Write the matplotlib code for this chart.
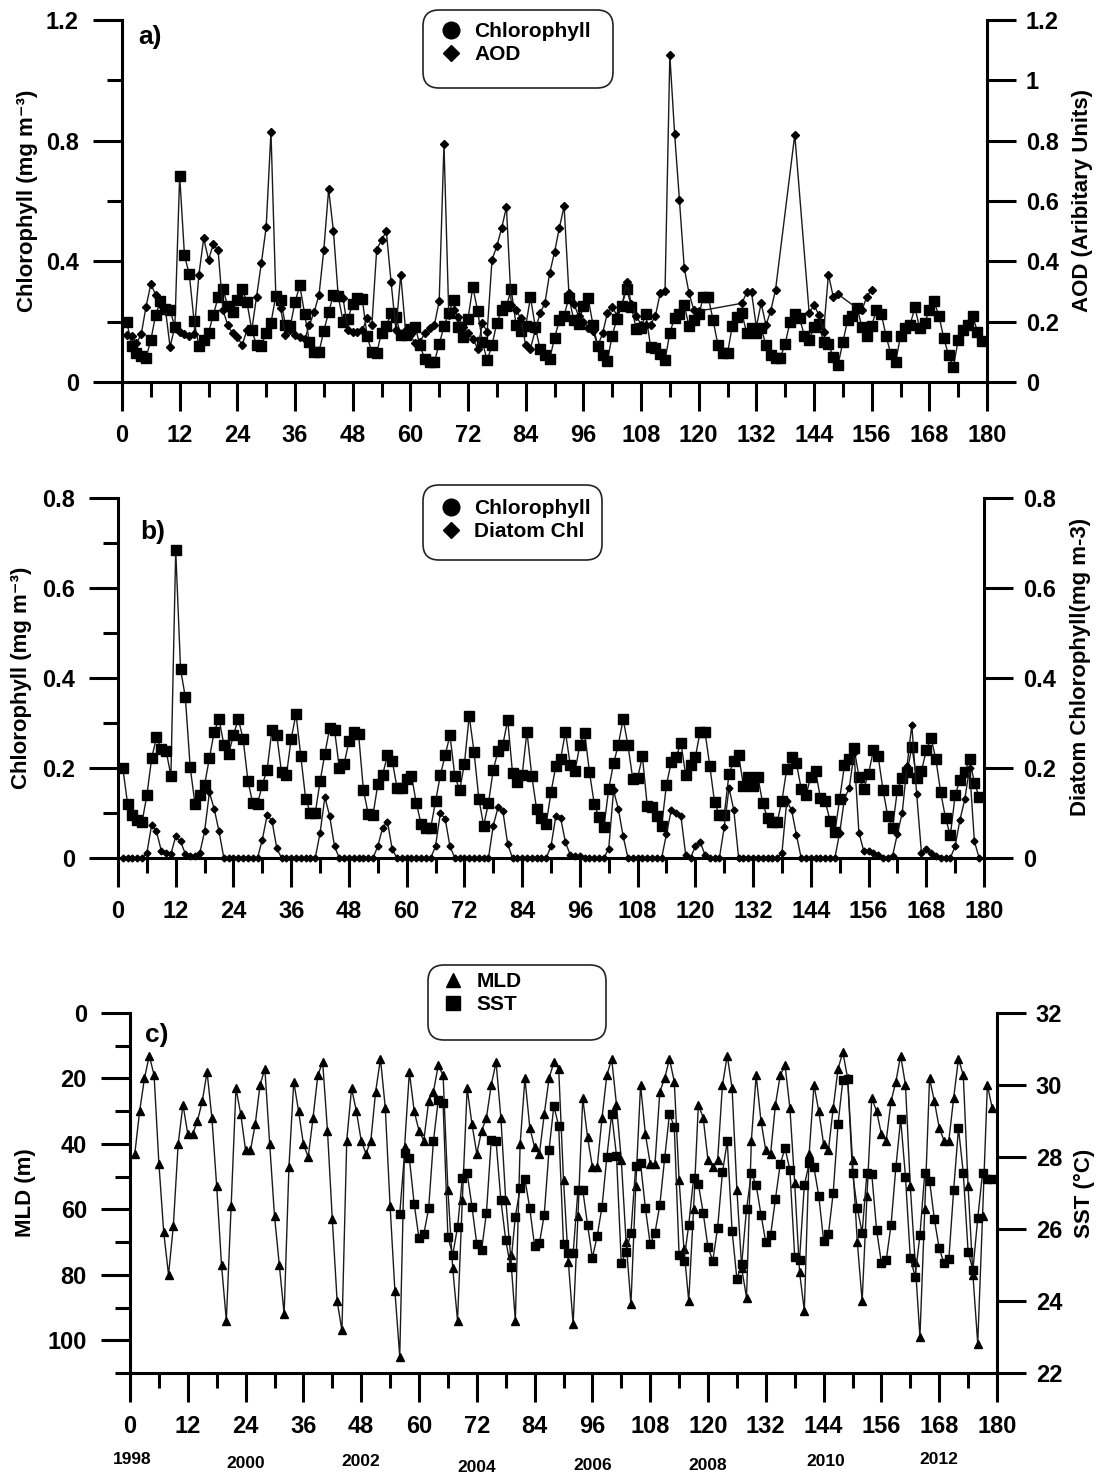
import matplotlib
matplotlib.use('Agg')
import matplotlib.pyplot as plt
from matplotlib.lines import Line2D
from matplotlib.patches import FancyBboxPatch
from matplotlib.transforms import IdentityTransform, blended_transform_factory

plt.rcParams['font.family'] = ['Liberation Sans', 'DejaVu Sans']
plt.rcParams['font.weight'] = 'bold'
plt.rcParams['axes.labelweight'] = 'bold'

# ---- data (monthly, month 1 = Jan 1998) ----
chl = [0.20, 0.12, 0.096, 0.085, 0.08, 0.139, 0.222, 0.268, 0.242, 0.238,
       0.183, 0.684, 0.42, 0.357, 0.202, 0.12, 0.139, 0.163, 0.222, 0.281,
       0.309, 0.252, 0.232, 0.273, 0.309, 0.265, 0.172, 0.122, 0.12, 0.163,
       0.196, 0.285, 0.273, 0.19, 0.184, 0.265, 0.32, 0.226, 0.132, 0.10,
       0.10, 0.17, 0.232, 0.289, 0.285, 0.20, 0.209, 0.259, 0.28, 0.276,
       0.152, 0.098, 0.095, 0.164, 0.185, 0.228, 0.216, 0.156, 0.156, 0.176,
       0.183, 0.122, 0.076, 0.067, 0.067, 0.126, 0.184, 0.228, 0.273, 0.183,
       0.15, 0.209, 0.316, 0.236, 0.132, 0.072, 0.122, 0.196, 0.238, 0.252,
       0.307, 0.189, 0.169, 0.184, 0.281, 0.183, 0.109, 0.089, 0.076, 0.146,
       0.204, 0.22, 0.28, 0.207, 0.193, 0.252, 0.278, 0.19, 0.12, 0.09,
       0.069, 0.154, 0.21, 0.252, 0.309, 0.25, 0.176, 0.178, 0.226, 0.116,
       0.113, 0.093, 0.072, 0.163, 0.213, 0.224, 0.256, 0.184, 0.207, 0.224,
       0.281, 0.281, 0.205, 0.124, 0.095, 0.095, 0.187, 0.216, 0.228, 0.161,
       0.18, 0.161, 0.18, 0.122, 0.089, 0.08, 0.08, 0.127, 0.198, 0.224,
       0.211, 0.154, 0.139, 0.181, 0.193, 0.133, 0.126, 0.083, 0.057, 0.131,
       0.206, 0.219, 0.244, 0.181, 0.154, 0.187, 0.239, 0.226, 0.152, 0.093,
       0.067, 0.152, 0.178, 0.19, 0.247, 0.178, 0.194, 0.239, 0.267, 0.219,
       0.146, 0.089, 0.05, 0.139, 0.174, 0.19, 0.22, 0.167, 0.135]
chl_months = list(range(1, len(chl) + 1))

diatom = [0, 0, 0, 0, 0, 0.011, 0.074, 0.059, 0.016, 0.011,
          0.009, 0.048, 0.037, 0.009, 0.004, 0.004, 0.011, 0.059, 0.146, 0.109,
          0.059, 0, 0, 0, 0, 0, 0, 0, 0, 0.041,
          0.095, 0.083, 0.022, 0, 0, 0, 0, 0, 0, 0,
          0, 0.056, 0.135, 0.093, 0.026, 0, 0, 0, 0, 0,
          0, 0, 0, 0.026, 0.067, 0.081, 0.019, 0, 0, 0,
          0, 0, 0, 0, 0, 0.026, 0.10, 0.087, 0.026, 0,
          0, 0, 0, 0, 0, 0, 0, 0.072, 0.113, 0.104,
          0.031, 0, 0, 0, 0, 0, 0, 0, 0, 0.026,
          0.093, 0.089, 0.035, 0.007, 0.005, 0.005, 0, 0, 0, 0,
          0, 0.021, 0.15, 0.109, 0.048, 0, 0, 0, 0, 0,
          0, 0, 0, 0.054, 0.107, 0.10, 0.093, 0.007, 0, 0.026,
          0.036, 0.007, 0, 0, 0, 0.068, 0.156, 0.106, 0, 0,
          0, 0, 0, 0, 0, 0, 0, 0.011, 0.126, 0.107,
          0.052, 0, 0, 0, 0, 0, 0, 0, 0, 0.056,
          0.132, 0.156, 0.233, 0.056, 0.016, 0.016, 0.011, 0.007, 0, 0,
          0.005, 0.054, 0.10, 0.205, 0.296, 0.143, 0.011, 0.019, 0.011, 0.005,
          0, 0, 0, 0.026, 0.085, 0.13, 0.2, 0.037, 0]
diatom_months = list(range(1, len(diatom) + 1))

aod_months = list(range(1, 121)) + [129, 130, 131, 132, 133, 134, 135, 136, 140,
                                    143, 144, 145, 146, 147, 148, 149,
                                    153, 154, 155, 156]
aod = [0.156, 0.152, 0.128, 0.158, 0.25, 0.324, 0.29, 0.26, 0.245, 0.117,
       0.183, 0.167, 0.16, 0.152, 0.16, 0.356, 0.476, 0.406, 0.456, 0.436,
       0.239, 0.189, 0.161, 0.15, 0.122, 0.172, 0.172, 0.283, 0.394, 0.513,
       0.83, 0.289, 0.244, 0.156, 0.172, 0.156, 0.15, 0.141, 0.189, 0.233,
       0.289, 0.439, 0.639, 0.5, 0.283, 0.278, 0.172, 0.167, 0.167, 0.172,
       0.211, 0.189, 0.439, 0.47, 0.5, 0.33, 0.172, 0.356, 0.172, 0.156,
       0.128, 0.133, 0.161, 0.178, 0.189, 0.267, 0.789, 0.222, 0.239, 0.217,
       0.183, 0.161, 0.144, 0.111, 0.194, 0.167, 0.406, 0.45, 0.51, 0.58,
       0.256, 0.239, 0.211, 0.122, 0.111, 0.172, 0.228, 0.261, 0.361, 0.43,
       0.51, 0.583, 0.294, 0.26, 0.22, 0.2, 0.18, 0.17, 0.12, 0.161,
       0.228, 0.25, 0.22, 0.25, 0.33, 0.26, 0.22, 0.19, 0.19, 0.19,
       0.22, 0.294, 0.30, 1.083, 0.822, 0.603, 0.378, 0.294, 0.239, 0.235,
       0.261, 0.297, 0.297, 0.183, 0.261, 0.189, 0.236, 0.306, 0.82,
       0.228, 0.256, 0.222, 0.167, 0.356, 0.283, 0.291,
       0.244, 0.239, 0.283, 0.306]

mld = [43, 30, 20, 13, 19, 46, 67, 80, 65, 40,
       28, 37, 37, 33, 27, 18, 32, 53, 77, 94,
       59, 23, 31, 42, 42, 34, 22, 17, 40, 62,
       77, 92, 47, 21, 30, 40, 44, 32, 19, 15,
       36, 63, 88, 97, 39, 23, 30, 39, 43, 39,
       24, 14, 29, 59, 85, 105, 41, 18, 30, 36,
       39, 27, 24, 16, 19, 54, 78, 94, 57, 23,
       34, 43, 36, 32, 22, 15, 32, 57, 74, 94,
       40, 20, 35, 41, 43, 31, 20, 15, 17, 51,
       76, 95, 62, 26, 38, 47, 47, 32, 19, 14,
       28, 45, 70, 89, 53, 22, 37, 46, 46, 24,
       20, 14, 21, 51, 72, 88, 60, 28, 32, 45,
       47, 45, 22, 13, 23, 54, 78, 87, 39, 19,
       33, 42, 43, 28, 19, 16, 29, 52, 79, 91,
       43, 22, 30, 40, 42, 29, 17, 12, 20, 45,
       70, 88, 56, 26, 30, 37, 39, 27, 21, 13,
       22, 53, 76, 99, 60, 20, 27, 35, 39, 39,
       26, 14, 19, 53, 80, 101, 62, 22, 29]
mld_months = list(range(1, len(mld) + 1))

sst = [26.42, 28.1, 27.96, 26.7, 25.74,
       25.86, 26.57, 28.45, 29.58, 29.49, 25.79, 25.28, 26.05, 27.41, 27.55,
       26.62, 25.58, 25.42, 26.45, 28.47, 28.44, 26.8, 25.7, 24.95, 26.34,
       27.13, 27.38, 26.57, 25.53, 25.6, 26.4, 28.2, 29.42, 28.86, 25.58,
       25.32, 25.32, 27.08, 27.08, 26.11, 25.2, 25.81, 26.62, 28.0, 29.2,
       28.04, 25.05, 25.37, 25.9, 27.75, 27.82, 26.58, 25.58, 25.9, 26.67,
       27.96, 29.2, 28.84, 25.28, 25.12, 26.11, 27.41, 27.25, 26.45, 25.49,
       25.12, 26.04, 27.57, 28.44, 25.95, 24.61, 25.03, 26.55, 27.55, 27.22,
       26.4, 25.63, 25.83, 26.83, 27.81, 28.24, 27.64, 25.23, 25.14, 27.22,
       27.82, 27.71, 26.92, 25.68, 25.86, 27.01, 28.92, 30.14, 30.16, 27.56,
       26.57, 25.9, 27.56, 27.53, 25.97, 25.06, 25.13, 26.11, 27.71, 29.05,
       27.45, 25.19, 24.68, 25.83, 27.56, 27.34, 26.27, 25.46, 25.05, 25.16,
       27.08, 28.8, 27.56, 25.37, 24.86, 26.3, 27.56, 27.38, 27.38]
sst_months = list(range(56, 56 + len(sst)))

month_ticks = list(range(0, 181, 12))
year_labels = ['1998', '2000', '2002', '2004', '2006', '2008', '2010', '2012']
year_months = [0.5, 24, 48, 72, 96, 120, 144.5, 168]

W, H = 1104, 1478
fig = plt.figure(figsize=(W / 100, H / 100), dpi=100)

LC = '#1a1a1a'


def rect(left, right, top, bottom):
    return [left / W, 1 - bottom / H, (right - left) / W, (bottom - top) / H]


def style_x(ax):
    ax.set_xlim(0, 180)
    ax.set_xticks(month_ticks)
    ax.set_xticks([m + 6 for m in month_ticks[:-1]], minor=True)
    ax.tick_params(axis='x', which='major', direction='out', length=21, width=2.2,
                   labelsize=17, pad=9)
    ax.tick_params(axis='x', which='minor', direction='out', length=10.5, width=2.2)


def style_left(ax):
    ax.tick_params(axis='y', which='major', direction='out', length=21, width=2.2,
                   labelsize=17, pad=10)
    ax.tick_params(axis='y', which='minor', direction='out', length=10.5, width=2.2)
    for s in ['top', 'right']:
        ax.spines[s].set_visible(False)
    for s in ['left', 'bottom']:
        ax.spines[s].set_linewidth(2.2)


def style_right(ax):
    ax.tick_params(axis='y', which='major', direction='out', length=21, width=2.2,
                   labelsize=17, pad=7)
    for s in ['top', 'left', 'bottom']:
        ax.spines[s].set_visible(False)
    ax.spines['right'].set_linewidth(2.2)


def legend_box(handles, labels, box, anchor):
    x0, y0, x1, y1 = box
    patch = FancyBboxPatch((x0, H - y1), x1 - x0, y1 - y0,
                           boxstyle='round,pad=0,rounding_size=16',
                           transform=IdentityTransform(), fc='white', ec='#222222',
                           lw=1.2, zorder=3)
    fig.add_artist(patch)
    fig.legend(handles, labels, loc='upper left',
               bbox_to_anchor=(anchor[0] / W, 1 - anchor[1] / H),
               frameon=False, prop={'weight': 'bold', 'size': 15},
               handlelength=1.0, handletextpad=0.6, labelspacing=0.2,
               borderpad=0, borderaxespad=0)


# ---------------- panel a ----------------
axa = fig.add_axes(rect(122, 987, 20, 382))
axa.plot(chl_months, chl, color=LC, lw=1.0, marker='s', ms=6.8, mfc='black',
         mec='black', clip_on=False, zorder=3)
axa.set_ylim(0, 1.2)
axa.set_yticks([0, 0.4, 0.8, 1.2])
axa.set_yticklabels(['0', '0.4', '0.8', '1.2'])
axa.set_yticks([0.2, 0.6, 1.0], minor=True)
style_left(axa)
style_x(axa)
axa.set_ylabel('Chlorophyll (mg m⁻³)', fontsize=16)
axa.yaxis.set_label_coords(-0.097, 0.5)
axa.text(0.032, 0.953, 'a)', transform=axa.transAxes, fontsize=19,
         ha='center', va='center')

axa2 = axa.twinx()
axa2.plot(aod_months, aod, color=LC, lw=1.0, marker='D', ms=3.6, mfc='black',
          mec='black', clip_on=False, zorder=3)
axa2.set_ylim(0, 1.2)
axa2.set_yticks([0, 0.2, 0.4, 0.6, 0.8, 1.0, 1.2])
axa2.set_yticklabels(['0', '0.2', '0.4', '0.6', '0.8', '1', '1.2'])
style_right(axa2)
axa2.set_ylabel('AOD (Aribitary Units)', fontsize=16)
axa2.yaxis.set_label_coords(1.098, 0.5)

legend_box([Line2D([], [], ls='none', marker='o', ms=12, color='black'),
            Line2D([], [], ls='none', marker='D', ms=8.5, color='black')],
           ['Chlorophyll', 'AOD'], (423, 10, 613, 88), (441, 22))

# ---------------- panel b ----------------
axb = fig.add_axes(rect(118, 984, 498, 858))
axb.plot(chl_months, chl, color=LC, lw=1.0, marker='s', ms=6.8, mfc='black',
         mec='black', clip_on=False, zorder=3)
axb.set_ylim(0, 0.8)
axb.set_yticks([0, 0.2, 0.4, 0.6, 0.8])
axb.set_yticklabels(['0', '0.2', '0.4', '0.6', '0.8'])
axb.set_yticks([0.1, 0.3, 0.5, 0.7], minor=True)
style_left(axb)
style_x(axb)
axb.set_ylabel('Chlorophyll (mg m⁻³)', fontsize=16)
axb.yaxis.set_label_coords(-0.099, 0.5)
axb.text(0.040, 0.906, 'b)', transform=axb.transAxes, fontsize=19,
         ha='center', va='center')

axb2 = axb.twinx()
axb2.plot(diatom_months, diatom, color=LC, lw=1.0, marker='D', ms=3.5, mfc='black',
          mec='black', clip_on=False, zorder=3)
axb2.set_ylim(0, 0.8)
axb2.set_yticks([0, 0.2, 0.4, 0.6, 0.8])
axb2.set_yticklabels(['0', '0.2', '0.4', '0.6', '0.8'])
style_right(axb2)
axb2.set_ylabel('Diatom Chlorophyll(mg m-3)', fontsize=16)
axb2.yaxis.set_label_coords(1.099, 0.53)

legend_box([Line2D([], [], ls='none', marker='o', ms=12, color='black'),
            Line2D([], [], ls='none', marker='D', ms=8.5, color='black')],
           ['Chlorophyll', 'Diatom Chl'], (423, 485, 602, 560), (441, 499))

# ---------------- panel c ----------------
axc = fig.add_axes(rect(130, 997, 1013, 1373))
axc.plot(mld_months, mld, color=LC, lw=1.0, marker='^', ms=5.5, mfc='black',
         mec='black', clip_on=False, zorder=3)
axc.set_ylim(110, 0)
axc.set_yticks([0, 20, 40, 60, 80, 100])
axc.set_yticklabels(['0', '20', '40', '60', '80', '100'])
axc.set_yticks([10, 30, 50, 70, 90, 110], minor=True)
style_left(axc)
style_x(axc)
axc.set_ylabel('MLD (m)', fontsize=16)
axc.yaxis.set_label_coords(-0.108, 0.5)
axc.text(0.031, 0.939, 'c)', transform=axc.transAxes, fontsize=19,
         ha='center', va='center')

axc2 = axc.twinx()
axc2.plot(sst_months, sst, color=LC, lw=1.0, marker='s', ms=6.2, mfc='black',
          mec='black', clip_on=False, zorder=3)
axc2.set_ylim(22, 32)
axc2.set_yticks([22, 24, 26, 28, 30, 32])
axc2.set_yticklabels(['22', '24', '26', '28', '30', '32'])
style_right(axc2)
axc2.set_ylabel('SST (°C)', fontsize=16)
axc2.yaxis.set_label_coords(1.089, 0.5)

trans = blended_transform_factory(axc.transData, fig.transFigure)
year_y = [1460, 1463, 1462, 1468, 1466, 1465, 1462, 1460]
for lab, m, yp in zip(year_labels, year_months, year_y):
    axc.text(m, 1 - yp / H, lab, transform=trans, fontsize=12.5,
             ha='center', va='center')

legend_box([Line2D([], [], ls='none', marker='^', ms=10, color='black'),
            Line2D([], [], ls='none', marker='s', ms=10, color='black')],
           ['MLD', 'SST'], (428, 965, 606, 1040), (443, 972))

fig.savefig('out.png', dpi=100)
